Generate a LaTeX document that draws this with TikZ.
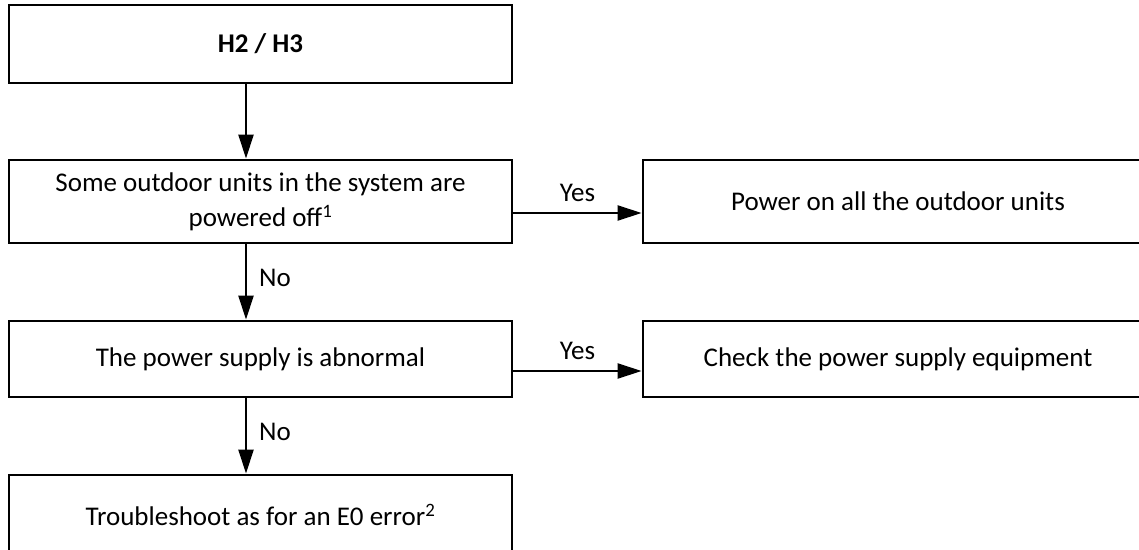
\documentclass[tikz,border=0pt]{standalone}
\usepackage{fontspec}
\setmainfont{Carlito}
\usetikzlibrary{arrows.meta}
\tikzset{ box/.style = { rectangle % step box
, draw
, line width = 2.8pt
, minimum width = 503pt
, align = center
, font = \fontsize{27}{33}\selectfont
, inner sep = 0pt
}
, arr/.style = { line width = 2.2pt % connector
, -{Triangle[length=24pt,width=15pt]}
}
, lbl/.style = { font = \fontsize{27}{30}\selectfont
, inner sep = 4pt
}
}
\begin{document}
\begin{tikzpicture}[x=1pt, y=-1pt]
                    \useasboundingbox (0,0) rectangle (1139,549);
                    \node[box, minimum height=78pt] (h) at (260.5, 44) {\textbf{H2 / H3}};
                    \node[box, minimum height=83pt] (off) at (260.5, 201.5) {Some outdoor units in the system are\\[2pt] powered off\textsuperscript{1}};
                    \node[box, minimum height=76pt] (abn) at (260.5, 359) {The power supply is abnormal};
                    \node[box, minimum height=80pt] (trb) at (260.5, 515) {Troubleshoot as for an E0 error\textsuperscript{2}};
                    \node[box, minimum width=510pt, minimum height=83pt] (on) at (898, 201.5) {Power on all the outdoor units};
                    \node[box, minimum width=510pt, minimum height=76pt] (chk) at (898, 359) {Check the power supply equipment};

                    \draw[arr] ([xshift=-14.5pt]h.south) -- ([xshift=-14.5pt]off.north);
                    \draw[arr] ([xshift=-14.5pt]off.south) -- node[lbl, right=8pt, yshift=4pt] {No} ([xshift=-14.5pt]abn.north);
                    \draw[arr] ([xshift=-14.5pt]abn.south) -- node[lbl, right=8pt, yshift=4pt] {No} ([xshift=-14.5pt]trb.north);
                    \draw[arr] ([yshift=-11.5pt]off.east) -- node[lbl, above=6pt] {Yes} ([yshift=-11.5pt]on.west);
                    \draw[arr] ([yshift=-12pt]abn.east) -- node[lbl, above=6pt] {Yes} ([yshift=-12pt]chk.west);
                \end{tikzpicture}
\end{document}
